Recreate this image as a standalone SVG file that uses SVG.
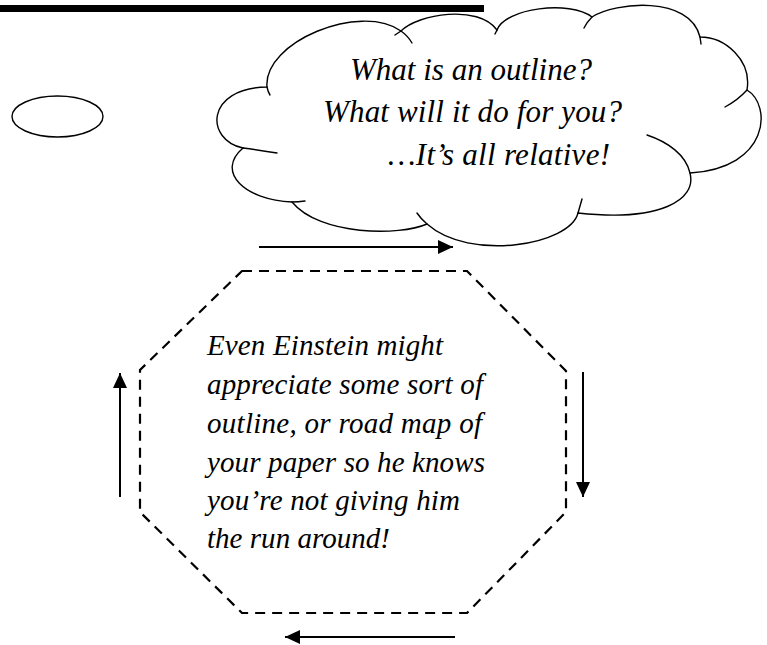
<svg xmlns="http://www.w3.org/2000/svg" width="767" height="645" viewBox="0 0 767 645">
<defs>
<style>
.ln{fill:none;stroke:#000;stroke-width:1.4;stroke-linecap:round}
.arr{fill:none;stroke:#000;stroke-width:2}
.oct{fill:none;stroke:#000;stroke-width:2.2;stroke-dasharray:10 7}
.ct{font-family:"Liberation Serif","Times New Roman",serif;font-style:italic;font-size:31px;fill:#000}
.ot{font-family:"Liberation Serif","Times New Roman",serif;font-style:italic;font-size:29px;fill:#000}
</style>
<marker id="ah" viewBox="0 0 15 14" refX="15" refY="7" markerWidth="15" markerHeight="14" markerUnits="userSpaceOnUse" orient="auto">
<path d="M0,0 L15,7 L0,14 Z" fill="#000"/>
</marker>
</defs>
<rect x="0" y="5" width="484" height="7" fill="#000"/>
<g id="ellipse"><ellipse cx="57.5" cy="116.5" rx="45.5" ry="20.5" class="ln"/></g>
<g id="cloud">
<path d="M267,87 C263,42 360,2 401,31 C418,14 478,4 497,30 C505,8 570,0 592,17 C615,2 690,-5 700,37 C725,37 752,60 747,90 C772,105 770,168 690,173 C697,200 660,222 578,213 C570,245 470,262 427,224 C400,236 320,236 292,202 C245,200 215,172 243,148 C205,140 205,88 267,87 Z" fill="#fff" stroke="#000" stroke-width="1.4"/>
<path class="ln" d="M267,87 Q268,92 270,95 M401,31 Q408,36 412,43 M401,31 L395,35 M497,30 L495,34 M592,17 Q587,22 584,28 M700,37 L701,44 M747,90 Q738,100 725,107 M647,135 C668,142 686,155 690,173 M578,213 L582,199 M427,224 Q421,219 417,213 M292,202 Q298,202 305,201 M243,148 Q258,150 277,153"/>
<text class="ct" x="350" y="80" textLength="242" lengthAdjust="spacing">What is an outline?</text>
<text class="ct" x="323" y="122" textLength="299" lengthAdjust="spacing">What will it do for you?</text>
<text class="ct" x="388" y="165" textLength="222" lengthAdjust="spacing">…It’s all relative!</text>
</g>
<g id="octagon">
<polygon class="oct" points="242,271 467,271 566,371 566,512 467,613 242,613 140,512 140,370"/>
<text class="ot" x="207" y="355" textLength="236" lengthAdjust="spacing">Even Einstein might</text>
<text class="ot" x="207" y="394" textLength="276" lengthAdjust="spacing">appreciate some sort of</text>
<text class="ot" x="207" y="433" textLength="275" lengthAdjust="spacing">outline, or road map of</text>
<text class="ot" x="207" y="472" textLength="278" lengthAdjust="spacing">your paper so he knows</text>
<text class="ot" x="207" y="510" textLength="253" lengthAdjust="spacing">you’re not giving him</text>
<text class="ot" x="207" y="548" textLength="183" lengthAdjust="spacing">the run around!</text>
</g>
<g id="connectors">
<line class="arr" x1="259" y1="247" x2="453" y2="247" marker-end="url(#ah)"/>
<line class="arr" x1="583" y1="372" x2="583" y2="497" marker-end="url(#ah)"/>
<line class="arr" x1="455" y1="637" x2="285" y2="637" marker-end="url(#ah)"/>
<line class="arr" x1="120" y1="497" x2="120" y2="373" marker-end="url(#ah)"/>
</g>
</svg>
